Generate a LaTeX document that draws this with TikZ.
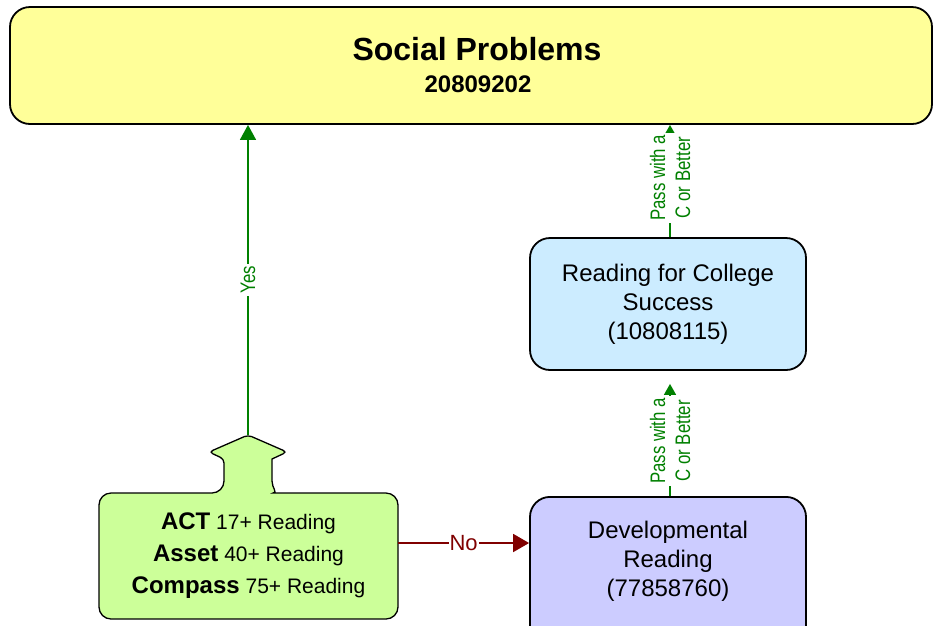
\documentclass[tikz,border=0pt]{standalone}
\usepackage{fontspec}
\setmainfont{Liberation Sans}
\newfontfamily\narrowfont[FakeStretch=0.8]{Liberation Sans}
\usetikzlibrary{arrows.meta}
\definecolor{topfill}{HTML}{FFFF99}
\definecolor{gfill}{HTML}{CCFF99}
\definecolor{bfill}{HTML}{CCECFF}
\definecolor{pfill}{HTML}{CCCCFF}
\definecolor{garr}{HTML}{008000}
\definecolor{rarr}{HTML}{800000}
\newcommand{\bigb}[1]{{\fontsize{24}{32}\selectfont\bfseries #1}}
\begin{document}
\begin{tikzpicture}[x=1pt,y=-1pt,
  box/.style={draw=black, line width=1.8pt, rounded corners=20pt, inner sep=0pt, align=center},
  boxtext/.style={align=center, font=\fontsize{24}{29}\selectfont},
  garrow/.style={draw=garr, line width=1.5pt, -{Triangle[length=15pt,width=16pt]}},
  parrow/.style={draw=garr, line width=1.5pt, -{Triangle[length=11pt,width=12pt]}},
  rarrow/.style={draw=rarr, line width=1.8pt, -{Triangle[length=16pt,width=18pt]}},
  lbl/.style={fill=white, rotate=90, text=garr, font=\narrowfont\fontsize{21}{25}\selectfont, inner sep=2pt, align=center},
  nolbl/.style={fill=white, text=rarr, font=\fontsize{22}{26}\selectfont, inner sep=1pt},
  gshape/.style={draw=black, line width=1.3pt, fill=gfill}
]
\useasboundingbox (0,0) rectangle (933,625);

% top box
\node[box, fill=topfill, minimum width=922pt, minimum height=117pt] (top) at (471,65.5) {};
\node[anchor=base, font=\fontsize{32}{38}\selectfont\bfseries] (title) at (477,60) {Social Problems};
\node[anchor=base, font=\fontsize{24}{29}\selectfont\bfseries] (code) at (478,92) {20809202};

% blue box
\node[box, fill=bfill, minimum width=276pt, minimum height=132pt, font=\fontsize{24}{29}\selectfont] (rcs) at (668,304) {Reading for College\\Success\\(10808115)};

% purple box (cut by the bottom edge)
\node[box, fill=pfill, minimum width=276pt, minimum height=150pt, anchor=north] (dev) at (668,496) {};
\node[boxtext] (devtext) at (668,561) {Developmental\\Reading\\(77858760)};

% green shape
\draw[gshape]
  [rounded corners=12pt] (212,493) -- (99,493) -- (99,619) -- (398,619) -- (398,493) -- (285,493)
  [sharp corners] to[out=180,in=-90] (272,481) -- (272,459)
  [rounded corners=4pt] -- (287,452) -- (248,435) -- (209,452) -- (224,459)
  [sharp corners] -- (224,481) to[out=-90,in=0] (212,493) -- cycle;
\coordinate (gtip) at (248,435);
\node[font=\fontsize{21}{32}\selectfont, align=center, minimum width=299pt, minimum height=126pt, inner sep=0pt] (gbody) at (248.5,556)
  {\bigb{ACT} 17+ Reading\\\bigb{Asset} 40+ Reading\\\bigb{Compass} 75+ Reading};

% connectors
\draw[garrow] (gtip) -- (gtip |- top.south) node[midway, lbl] (yes) {Yes};
\draw[parrow, shorten >=13pt] ([xshift=2pt]dev.north) -- ([xshift=2pt]rcs.south)
  node[pos=0.44, lbl] (pass1) {Pass with a\\C or Better};
\draw[parrow] ([xshift=2pt]rcs.north) -- ([xshift=2pt]rcs.north |- top.south)
  node[pos=0.53, lbl] (pass2) {Pass with a\\C or Better};
\coordinate (noy) at (0,543);
\draw[rarrow] (gbody.east |- noy) -- (dev.west |- noy) node[midway, nolbl] (no) {No};
\end{tikzpicture}
\end{document}
